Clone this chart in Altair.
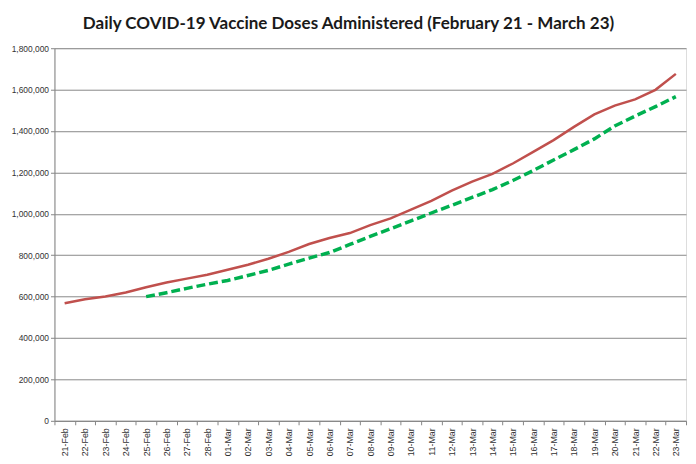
import altair as alt
import pandas as pd

dates = ["21-Feb", "22-Feb", "23-Feb", "24-Feb", "25-Feb", "26-Feb", "27-Feb", "28-Feb",
         "01-Mar", "02-Mar", "03-Mar", "04-Mar", "05-Mar", "06-Mar", "07-Mar", "08-Mar",
         "09-Mar", "10-Mar", "11-Mar", "12-Mar", "13-Mar", "14-Mar", "15-Mar", "16-Mar",
         "17-Mar", "18-Mar", "19-Mar", "20-Mar", "21-Mar", "22-Mar", "23-Mar"]

red_values = [568000, 587000, 601000, 620000, 645000, 668000, 687000, 706000,
              730000, 754000, 783000, 816000, 854000, 883000, 907000, 945000,
              978000, 1020000, 1063000, 1112000, 1156000, 1193000, 1243000, 1299000,
              1356000, 1420000, 1480000, 1523000, 1553000, 1599000, 1676000]

green_dates = dates[4:]
green_values = [600000, 619000, 640000, 660000, 678000, 702000, 727000, 757000,
                786000, 813000, 852000, 891000, 928000, 966000, 1004000, 1041000,
                1079000, 1117000, 1161000, 1209000, 1260000, 1310000, 1362000, 1424000,
                1472000, 1518000, 1566000]

y_ticks = list(range(0, 1800001, 200000))

red_df = pd.DataFrame({"date": dates, "doses": red_values})
green_df = pd.DataFrame({"date": green_dates, "doses": green_values})

LABEL_FONT = "Liberation Sans"

x_enc = alt.X(
    "date:N",
    sort=dates,
    scale=alt.Scale(type="band", domain=dates, paddingInner=0, paddingOuter=0),
    axis=alt.Axis(
        title=None,
        labelAngle=270,
        labelAlign="right",
        labelBaseline="middle",
        labelFont=LABEL_FONT,
        labelFontSize=9,
        labelColor="#333333",
        labelPadding=3,
        tickBand="extent",
        tickSize=4,
        tickColor="#868686",
        domainColor="#868686",
        grid=False,
        labelOverlap=False,
    ),
)

y_enc = alt.Y(
    "doses:Q",
    scale=alt.Scale(domain=[0, 1800000], nice=False),
    axis=alt.Axis(
        title=None,
        values=y_ticks,
        format=",d",
        labelFont=LABEL_FONT,
        labelFontSize=8.5,
        labelColor="#333333",
        labelPadding=2,
        tickSize=4,
        tickColor="#868686",
        domainColor="#868686",
        gridColor="#888888",
        gridWidth=1,
    ),
)

red = alt.Chart(red_df).mark_line(color="#C0504D", strokeWidth=2.5).encode(x=x_enc, y=y_enc)
green = alt.Chart(green_df).mark_line(
    color="#00B050", strokeWidth=3.5, strokeDash=[9, 4]
).encode(x=x_enc, y=y_enc)

chart = (
    alt.layer(red, green)
    .properties(
        width=639,
        height=377,
        autosize=alt.AutoSizeParams(type="none"),
        padding={"left": 47, "top": 38, "right": 2, "bottom": 41},
        title=alt.TitleParams(
            "Daily COVID-19 Vaccine Doses Administered (February 21 - March 23)",
            anchor="middle",
            font="Lato",
            fontSize=17.2,
            fontWeight="bold",
            color="#1a1a1a",
            offset=12,
            dx=-22,
        ),
    )
    .configure_view(stroke=None)
    .configure(background="white")
)

chart.save("out.html", embed_options={"renderer": "svg", "actions": False})
